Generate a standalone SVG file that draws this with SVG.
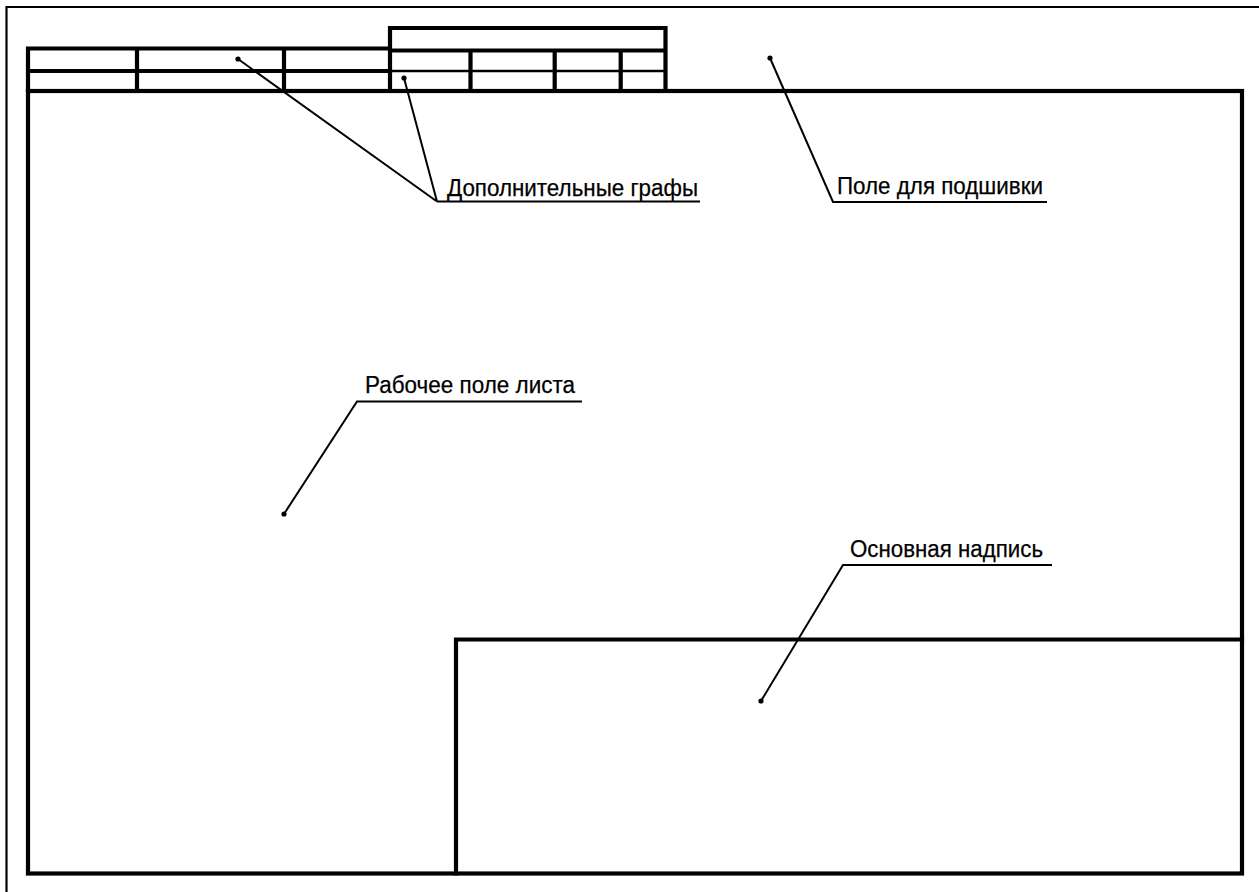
<svg xmlns="http://www.w3.org/2000/svg" width="1259" height="892" viewBox="0 0 1259 892">
<style>
.thin{fill:none;stroke:#000;stroke-width:2.2}
.thick{fill:none;stroke:#000;stroke-width:4.2;stroke-linecap:square}
.mid{fill:none;stroke:#000;stroke-width:2.5}
.lead{fill:none;stroke:#000;stroke-width:2}
.dot{fill:#000}
.lbl{font-family:"Liberation Sans",Arial,sans-serif;font-size:23.5px;fill:#000;stroke:#000;stroke-width:0.25}
</style>
<rect width="1259" height="892" fill="#fff"/>
<g id="sheet">
<path class="thin" d="M6.5,900 V7 H1270"/>
</g>
<g id="working-field">
<rect class="thick" x="28" y="91" width="1214" height="782.5"/>
</g>
<g id="additional-columns">
<path class="thick" d="M28,91 V48.5 H390 M28,71 H390 M137,48.5 V91 M284,48.5 V91 M390,91 V28 H665.5 V91 M390,50.5 H665.5 M470.5,50.5 V91 M554.7,50.5 V91 M620.7,50.5 V91"/>
<path class="mid" d="M390,71 H665.5"/>
</g>
<g id="title-block">
<path class="thick" d="M456,873.5 V639.5 H1242"/>
</g>
<g id="connectors">
<path class="lead" d="M238,59 L437,201.5 M404,78 L437,201.5 M437,201.5 H700"/>
<path class="lead" d="M770,58 L833,202 H1047"/>
<path class="lead" d="M284,514 L357,401.5 H582"/>
<path class="lead" d="M761,701 L843,565 H1052"/>
<circle class="dot" cx="238" cy="59" r="2.6"/>
<circle class="dot" cx="404" cy="78" r="2.6"/>
<circle class="dot" cx="770" cy="58" r="2.6"/>
<circle class="dot" cx="284" cy="514" r="2.6"/>
<circle class="dot" cx="761" cy="701" r="2.6"/>
</g>
<g id="labels">
<text class="lbl" x="447" y="196" textLength="251" lengthAdjust="spacingAndGlyphs">Дополнительные графы</text>
<text class="lbl" x="837" y="194" textLength="206" lengthAdjust="spacingAndGlyphs">Поле для подшивки</text>
<text class="lbl" x="365" y="393" textLength="210" lengthAdjust="spacingAndGlyphs">Рабочее поле листа</text>
<text class="lbl" x="850" y="557" textLength="193" lengthAdjust="spacingAndGlyphs">Основная надпись</text>
</g>
</svg>
